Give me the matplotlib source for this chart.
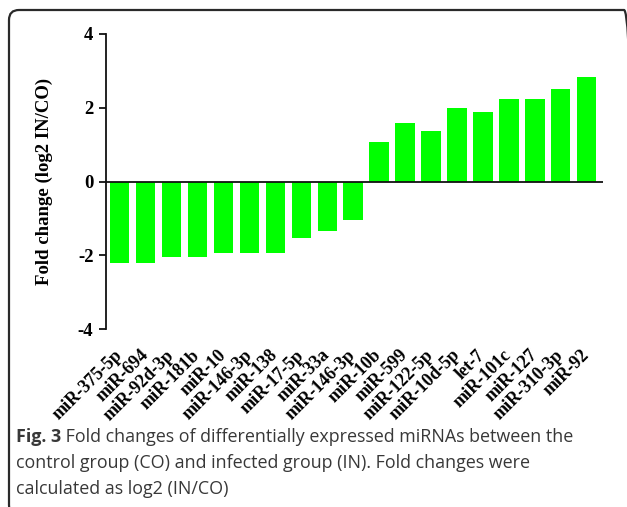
import matplotlib
matplotlib.use('Agg')
from matplotlib.pyplot import subplots
from matplotlib.patches import FancyBboxPatch
import numpy as n

# fold change data (log2 IN/CO)
mirna = ['miR-375-5p','miR-694','miR-92d-3p','miR-181b','miR-10','miR-146-3p','miR-138',
		 'miR-17-5p','miR-33a','miR-146-3p','miR-10b','miR-599','miR-122-5p','miR-10d-5p',
		 'let-7','miR-101c','miR-127','miR-310-3p','miR-92']
fold_chg = [-2.22,-2.20,-2.05,-2.05,-1.94,-1.94,-1.93,-1.53,-1.35,-1.05,
			1.08,1.59,1.36,1.98,1.88,2.24,2.24,2.50,2.83]
y_ticks = [-4,-2,0,2,4]

caption_bold = 'Fig. 3'
caption_lines = [' Fold changes of differentially expressed miRNAs between the',
				 'control group (CO) and infected group (IN). Fold changes were',
				 'calculated as log2 (IN/CO)']

## parameter
W, H = 627., 507.
dpi = 100.
fs = 13.
serif = 'Liberation Serif'
cap_font = 'Open Sans'
cap_fs = 12.9
cap_col = '#383838'

def px(x,y):
	return x/W, 1.-y/H

## plot
fig, ax = subplots(figsize=(W/dpi,H/dpi),dpi=dpi)
x0, y0 = px(106,329)
x1, y1 = px(603,34)
ax.set_position([x0,y0,x1-x0,y1-y0])

xs = n.arange(len(mirna))
ax.bar(xs,fold_chg,width=.75,color='#00ff00',edgecolor='none',zorder=2)
ax.axhline(0,color='#111111',lw=1.3,zorder=3)

ax.set(xlim=(-.53,18.63),ylim=(-4,4))
for s in ['top','right','bottom']:
	ax.spines[s].set_visible(False)
ax.spines['left'].set_linewidth(1.3)
ax.spines['left'].set_color('#111111')

ax.set_yticks(y_ticks)
ax.set_yticklabels([str(v) for v in y_ticks],fontsize=fs+.5,fontweight='bold',family=serif)
ax.tick_params(axis='y',which='major',length=5.,width=1.3,pad=4.,color='#111111')

ax.set_xticks(xs)
ax.set_xticklabels(mirna,rotation=45,ha='right',va='center',rotation_mode='anchor',
				   fontsize=fs,fontweight='bold',family=serif)
ax.tick_params(axis='x',length=0,pad=17.)

ax.set_ylabel('Fold change (log2 IN/CO)',fontsize=fs+.5,fontweight='bold',family=serif,labelpad=18.)

## caption
cx, cy = px(16,437)
t_b = fig.text(cx,cy,caption_bold,fontsize=cap_fs,fontweight='bold',family=cap_font,color=cap_col,va='center')
fig.canvas.draw()
bb = t_b.get_window_extent().transformed(fig.transFigure.inverted())
fig.text(bb.x1,cy,caption_lines[0],fontsize=cap_fs,family=cap_font,color=cap_col,va='center')
for i, ln in enumerate(caption_lines[1:]):
	fig.text(cx,px(0,463+26*i)[1],ln,fontsize=cap_fs,family=cap_font,color=cap_col,va='center')

## frame (pixel coords, bottom/right edges run past the canvas)
frame = FancyBboxPatch((9,-8),625,505,boxstyle='round,pad=0,rounding_size=10',
					   transform=None,fc='none',ec='#2a2a2a',lw=1.6,clip_on=False)
fig.patches.append(frame)

fig.savefig('out.png',dpi=dpi)
